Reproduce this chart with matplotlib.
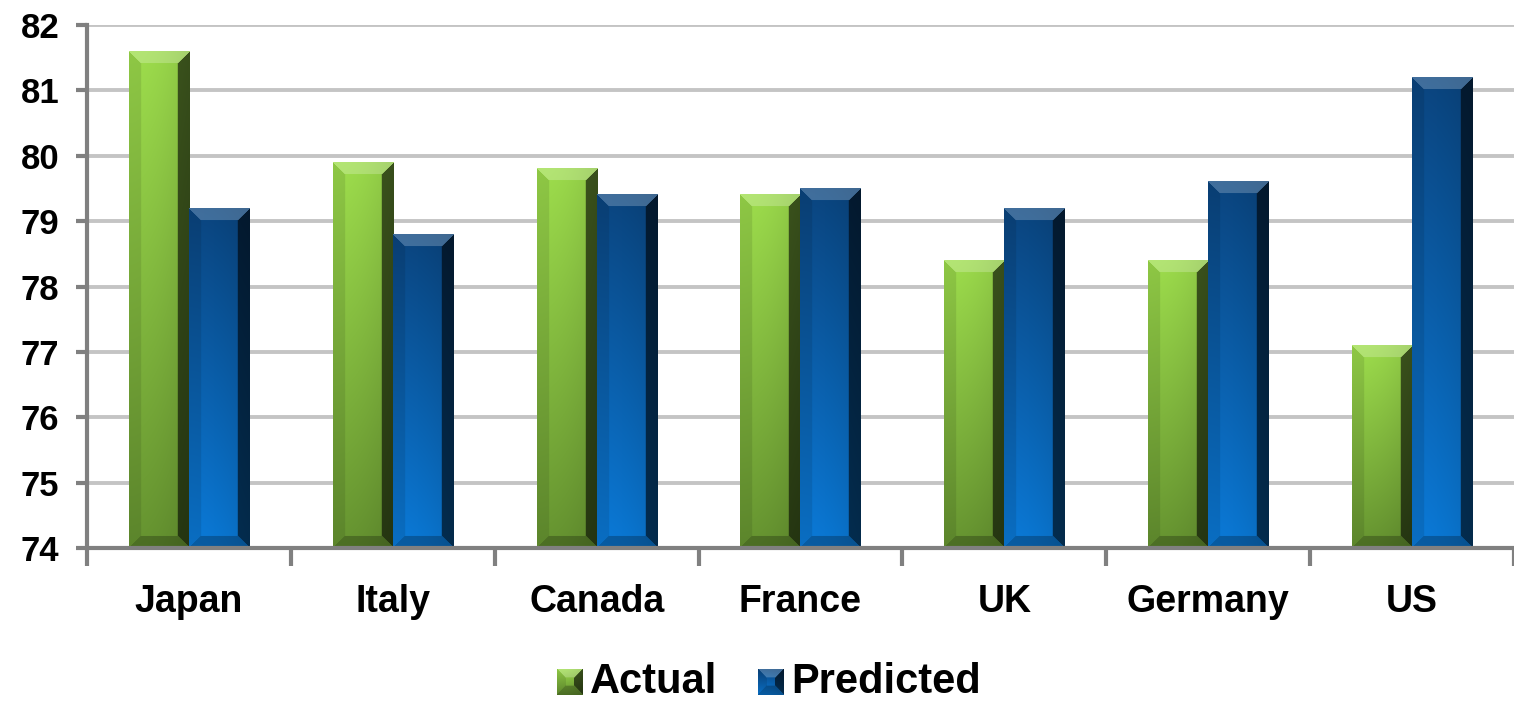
import numpy as np
import matplotlib
matplotlib.use("Agg")
import matplotlib.pyplot as plt

countries = ["Japan", "Italy", "Canada", "France", "UK", "Germany", "US"]
actual = [81.6, 79.9, 79.8, 79.4, 78.4, 78.4, 77.1]
predicted = [79.2, 78.8, 79.4, 79.5, 79.2, 79.6, 81.2]
y_ticks = [74, 75, 76, 77, 78, 79, 80, 81, 82]

BASE = 74
GREEN = ((0.62, 0.87, 0.30), (0.40, 0.58, 0.19))   # top, bottom of face
BLUE = ((0.04, 0.27, 0.50), (0.04, 0.48, 0.85))

plt.rcParams["font.family"] = ["Liberation Sans", "DejaVu Sans"]
plt.rcParams["font.weight"] = "bold"


def bevel_image(h, w, colors, bev=12):
    """RGB array of a bar face with a bevelled (frustum) edge."""
    h = max(int(h), 2)
    w = max(int(w), 2)
    top, bot = np.array(colors[0]), np.array(colors[1])
    yy = np.linspace(0, 1, h)[:, None, None]
    xx = np.linspace(0, 1, w)[None, :, None]
    img = top * (1 - yy) + bot * yy
    img = img * (1 - 0.12 * xx ** 2)
    img = np.broadcast_to(img, (h, w, 3)).copy()

    r = np.arange(h)[:, None] * np.ones((1, w))
    c = np.ones((h, 1)) * np.arange(w)[None, :]
    d = np.stack([r, h - 1 - r, c, w - 1 - c])  # top, bottom, left, right
    edge = d.argmin(axis=0)
    near = d.min(axis=0) < bev

    lighten = (edge == 0) & near
    img[lighten] = img[lighten] + (1 - img[lighten]) * 0.22
    for k, f in ((1, 0.75), (2, 0.9), (3, 0.4)):
        m = (edge == k) & near
        img[m] = img[m] * f
    return np.clip(img, 0, 1)


fig = plt.figure(figsize=(15.14, 7.01), dpi=100)
ax = fig.add_axes([87 / 1514, 1 - 548 / 701, 1 - 87 / 1514, (548 - 25) / 701])

n = len(countries)
ax.set_xlim(-0.5, n - 0.5)
ax.set_ylim(BASE, 82)

# pixel scale of one data unit, used to size the bar images
bbox = ax.get_window_extent()
px_x = bbox.width / n
px_y = bbox.height / (82 - BASE)

bw = 0.295
x = np.arange(n)
for i in range(n):
    for vals, colors, off in ((actual, GREEN, -bw), (predicted, BLUE, 0.0)):
        v = vals[i]
        img = bevel_image((v - BASE) * px_y, bw * px_x, colors)
        ax.imshow(img, extent=(x[i] + off, x[i] + off + bw, BASE, v),
                  aspect="auto", interpolation="bilinear", zorder=3)

ax.set_xlim(-0.5, n - 0.5)
ax.set_ylim(BASE, 82)

ax.set_yticks(y_ticks)
ax.set_yticklabels([str(t) for t in y_ticks], fontsize=25, fontweight="bold")
ax.set_xticks(x)
ax.set_xticklabels(countries, fontsize=27, fontweight="bold")
ax.set_xticks(np.arange(-0.5, n + 0.5, 1), minor=True)
ax.tick_params(axis="x", which="major", length=0, pad=26)
ax.tick_params(axis="x", which="minor", length=13, width=3, color="#808080")
ax.tick_params(axis="y", length=8, width=3, color="#808080", pad=12)

ax.grid(axis="y", color="#c4c4c4", linewidth=2.8, zorder=0)
ax.set_axisbelow(True)
for s in ("top", "right"):
    ax.spines[s].set_visible(False)
for s in ("left", "bottom"):
    ax.spines[s].set_color("#808080")
    ax.spines[s].set_linewidth(3)
    ax.spines[s].set_zorder(4)

# legend drawn as bevelled swatches plus labels
for sx, colors, label in ((557, GREEN, "Actual"), (758, BLUE, "Predicted")):
    sw = fig.add_axes([sx / 1514, 1 - 695 / 701, 26 / 1514, 26 / 701])
    sw.imshow(bevel_image(26, 26, colors, bev=9), aspect="auto",
              interpolation="bilinear")
    sw.axis("off")
    fig.text((sx + 33) / 1514, 1 - 682 / 701, label, fontsize=30,
             fontweight="bold", va="center", ha="left")

fig.savefig("out.png", dpi=100)
